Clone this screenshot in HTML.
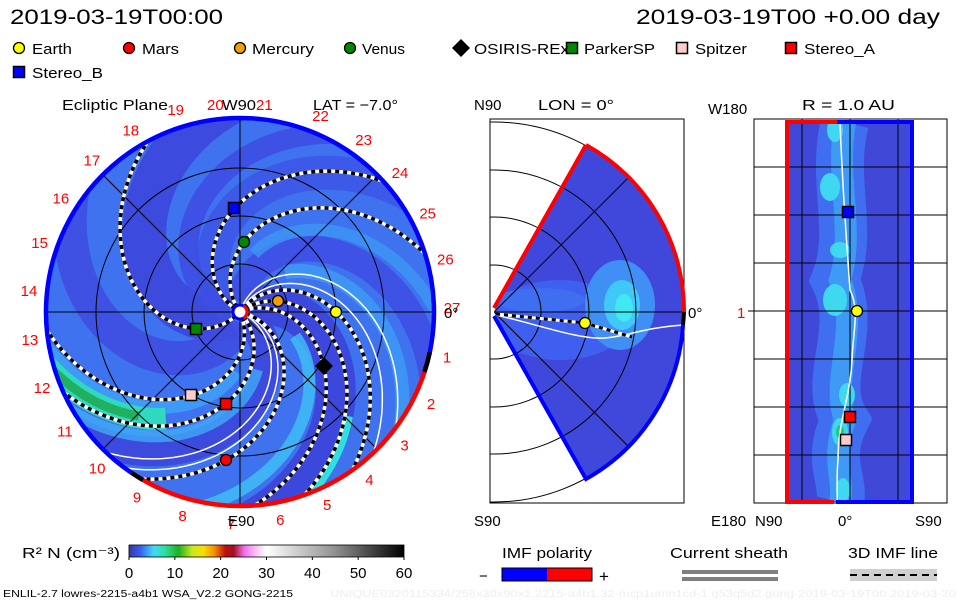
<!DOCTYPE html>
<html><head><meta charset="utf-8"><style>
body{margin:0;background:#fff}
svg{display:block}
text{font-family:"Liberation Sans",sans-serif;}
</style></head><body>
<svg id="s" width="960" height="600" viewBox="0 0 960 600" xmlns="http://www.w3.org/2000/svg">
<defs>
<clipPath id="disk"><circle cx="240" cy="312" r="193"/></clipPath>
<clipPath id="wedge"><path d="M494,312 L586,145 A190,190 0 0 1 586,479 Z"/></clipPath>
<clipPath id="rect"><rect x="785" y="122" width="129" height="380"/></clipPath>
<linearGradient id="cb" x1="0" x2="1" y1="0" y2="0">
<stop offset="0" stop-color="#3838a8"/><stop offset="0.04" stop-color="#3a5cf0"/><stop offset="0.09" stop-color="#40d8f8"/><stop offset="0.13" stop-color="#30e0a0"/><stop offset="0.18" stop-color="#20b020"/><stop offset="0.23" stop-color="#c8e820"/><stop offset="0.27" stop-color="#f8e000"/><stop offset="0.31" stop-color="#f89000"/><stop offset="0.35" stop-color="#c01010"/><stop offset="0.38" stop-color="#a01020"/><stop offset="0.42" stop-color="#f070f0"/><stop offset="0.46" stop-color="#f8c0f0"/><stop offset="0.5" stop-color="#ffffff"/><stop offset="0.75" stop-color="#909090"/><stop offset="1" stop-color="#000"/>
</linearGradient>
</defs>
<g id="left"></g>
<g id="mid"></g>
<g id="right"></g>
<g id="txt" font-size="15" fill="#000">
<text x="10" y="24" font-size="21" textLength="213" lengthAdjust="spacingAndGlyphs">2019-03-19T00:00</text>
<text x="636" y="24" font-size="21" textLength="304" lengthAdjust="spacingAndGlyphs">2019-03-19T00 +0.00 day</text>
<text x="32" y="54" textLength="40" lengthAdjust="spacingAndGlyphs">Earth</text>
<text x="142" y="54" textLength="37" lengthAdjust="spacingAndGlyphs">Mars</text>
<text x="252" y="54" textLength="62" lengthAdjust="spacingAndGlyphs">Mercury</text>
<text x="362" y="54" textLength="43" lengthAdjust="spacingAndGlyphs">Venus</text>
<text x="474" y="54" textLength="95" lengthAdjust="spacingAndGlyphs">OSIRIS-REx</text>
<text x="584" y="54" textLength="71" lengthAdjust="spacingAndGlyphs">ParkerSP</text>
<text x="695" y="54" textLength="52" lengthAdjust="spacingAndGlyphs">Spitzer</text>
<text x="804" y="54" textLength="71" lengthAdjust="spacingAndGlyphs">Stereo_A</text>
<text x="32" y="78" textLength="71" lengthAdjust="spacingAndGlyphs">Stereo_B</text>
<text x="62" y="110" textLength="106" lengthAdjust="spacingAndGlyphs">Ecliptic Plane</text>
<text x="222" y="110" textLength="34" lengthAdjust="spacingAndGlyphs">W90</text>
<text x="207" y="110" fill="#f00">20</text><text x="256" y="110" fill="#f00">21</text>
<text x="313" y="110" textLength="85" lengthAdjust="spacingAndGlyphs">LAT = −7.0°</text>
<text x="474" y="110">N90</text>
<text x="538" y="110" textLength="76" lengthAdjust="spacingAndGlyphs">LON = 0°</text>
<text x="708" y="114">W180</text>
<text x="802" y="110" textLength="93" lengthAdjust="spacingAndGlyphs">R = 1.0 AU</text>
<text x="474" y="526">S90</text>
<text x="711" y="526">E180</text>
<text x="755" y="526">N90</text>
<text x="838" y="526">0°</text>
<text x="915" y="526">S90</text>
<text x="228" y="526">E90</text>
<text x="737" y="318" fill="#f00">1</text>
<text x="688" y="318">0°</text>
<text x="444" y="318">0°</text>
<text x="22" y="558" textLength="98" lengthAdjust="spacingAndGlyphs">R² N (cm⁻³)</text>
<text x="502" y="558" textLength="90" lengthAdjust="spacingAndGlyphs">IMF polarity</text>
<text x="670" y="558" textLength="118" lengthAdjust="spacingAndGlyphs">Current sheath</text>
<text x="848" y="558" textLength="90" lengthAdjust="spacingAndGlyphs">3D IMF line</text>
<text x="479" y="581">−</text><text x="599" y="582" font-size="17">+</text>
<text x="3" y="597" font-size="10" textLength="290" lengthAdjust="spacingAndGlyphs">ENLIL-2.7 lowres-2215-a4b1 WSA_V2.2 GONG-2215</text>
<text x="330" y="597" font-size="10" fill="#eee" textLength="626" lengthAdjust="spacingAndGlyphs">UNIQUE0320115334/256x30x90x1.2215-a4b1.32-mcp1umn1cd-1.g53q5d2.gong-2019-03-19T00   2019-03-20</text>
</g>
<rect x="129" y="545" width="275" height="12" fill="url(#cb)" stroke="#000" stroke-width="0.8"/>
<g font-size="15" id="cbl"></g>
<rect x="502" y="568" width="45" height="13" fill="#00f"/><rect x="547" y="568" width="45" height="13" fill="#f00"/>
<rect x="502" y="568" width="90" height="13" fill="none" stroke="#000"/>
<rect x="682" y="570" width="96" height="4" fill="#808080"/><rect x="682" y="577" width="96" height="4" fill="#808080"/>
<rect x="850" y="569" width="87" height="12" fill="#d0d0d0"/>
<line x1="850" y1="575" x2="937" y2="575" stroke="#000" stroke-width="2" stroke-dasharray="7 5"/>
</svg>
<script>
const NS="http://www.w3.org/2000/svg";
function el(p,t,a){const e=document.createElementNS(NS,t);for(const k in a)e.setAttribute(k,a[k]);p.appendChild(e);return e;}
const L=document.getElementById('left'),M=document.getElementById('mid'),R=document.getElementById('right');
const cx=240,cy=312,d2r=Math.PI/180;
function spiral(p0,r0,r1){let s="";for(let r=r0;r<=r1;r+=2){const f=(p0+0.56*r)*d2r;s+=(s?"L":"M")+(cx+r*Math.cos(f)).toFixed(1)+","+(cy+r*Math.sin(f)).toFixed(1);}return s;}
const g=el(L,'g',{'clip-path':'url(#disk)'});
el(g,'rect',{x:40,y:110,width:400,height:410,fill:'#3f72ee'});
[[150,'#3c46da',44],[-30,'#3c44d8',40],[100,'#3e4ee0',34],[-150,'#3d56e6',34],[-95,'#3e50e4',26],[30,'#3c46da',30],[-175,'#3d4ee2',20]].forEach(b=>el(g,'path',{d:spiral(b[0],10,230),fill:'none',stroke:b[1],'stroke-width':b[2],opacity:0.9}));
[[-10,'#40c8f8',12],[40,'#40b0f8',12],[-75,'#3fa0f6',14],[-110,'#3f9af6',12],[60,'#3fa8f8',12]].forEach(b=>el(g,'path',{d:spiral(b[0],60,230),fill:'none',stroke:b[1],'stroke-width':b[2],opacity:0.75}));
el(g,'path',{d:spiral(52,130,230),fill:'none',stroke:'#30d8c0','stroke-width':22});
el(g,'path',{d:spiral(53,145,230),fill:'none',stroke:'#20b060','stroke-width':9});
el(g,'path',{d:spiral(-40,150,230),fill:'none',stroke:'#30e0e0','stroke-width':10});
[48,96,144].forEach(r=>el(g,'circle',{cx,cy,r,fill:'none',stroke:'#000','stroke-width':1}));
el(g,'line',{x1:40,y1:cy,x2:440,y2:cy,stroke:'#000'});el(g,'line',{x1:cx,y1:110,x2:cx,y2:520,stroke:'#000'});
el(g,'line',{x1:cx-200,y1:cy-200,x2:cx+200,y2:cy+200,stroke:'#000'});el(g,'line',{x1:cx-200,y1:cy+200,x2:cx+200,y2:cy-200,stroke:'#000'});
[-72,-62,18,25].forEach(p=>el(g,'path',{d:spiral(p,6,200),fill:'none',stroke:'#fff','stroke-width':1.5}));
[-151,-126,133,66,47,12,-23,-38,-54].forEach(p=>{const d=spiral(p,6,200);el(g,'path',{d,fill:'none',stroke:'#fff','stroke-width':3.5});el(g,'path',{d,fill:'none',stroke:'#000','stroke-width':3.5,'stroke-dasharray':'4 4'});});
function arc(a0,a1,r,col,w){const p=a=>[(cx+r*Math.cos(a*d2r)).toFixed(1),(cy+r*Math.sin(a*d2r)).toFixed(1)];const A=p(a0),B=p(a1);el(L,'path',{d:`M${A}A${r},${r} 0 ${a1-a0>180?1:0} 1 ${B}`,fill:'none',stroke:col,'stroke-width':w});}
arc(124,378,194,'#00f',4.5);arc(18,122,194,'#f00',4.5);arc(12,18,194,'#000',4.5);arc(120,124,194,'#000',4.5);
el(L,'circle',{cx,cy,r:7,fill:'#fff',stroke:'#00f','stroke-width':3});
arc(-60,60,7,'#f00',3);
for(let n=1;n<=27;n++){if(n==20||n==21)continue;const a=(12.4+(n-1)*13.33)*d2r;const x=cx+212*Math.cos(a),y=cy+212*Math.sin(a);const t=el(L,'text',{x:x.toFixed(1),y:(y+5).toFixed(1),'text-anchor':'middle','font-size':15,fill:'#f00'});t.textContent=n;}
function circ(p,x,y,c){el(p,'circle',{cx:x,cy:y,r:5.5,fill:c,stroke:'#000','stroke-width':1.3});}
function sq(p,x,y,c){el(p,'rect',{x:x-5.5,y:y-5.5,width:11,height:11,fill:c,stroke:'#000','stroke-width':1.5});}
function dia(p,x,y){el(p,'path',{d:`M${x},${y-9}L${x+9},${y}L${x},${y+9}L${x-9},${y}Z`,fill:'#000'});}
circ(L,336,312,'#ff0');circ(L,226,460,'#f00');circ(L,278,301,'#f0a000');circ(L,244,242,'#080');
sq(L,234,208,'#00f');sq(L,196,329,'#080');sq(L,191,395,'#fcc');sq(L,226,404,'#f00');dia(L,324,366);
circ(L,19,48,'#ff0');circ(L,129,48,'#f00');circ(L,240,48,'#f0a000');circ(L,350,48,'#080');dia(L,461,48);
sq(L,572,48,'#080');sq(L,682,48,'#fcc');sq(L,791,48,'#f00');sq(L,19,72,'#00f');
const ax=494,ay=312;
el(M,'rect',{x:490,y:119,width:194,height:384,fill:'none',stroke:'#000'});
const cp=el(document.querySelector('defs'),'clipPath',{id:'mr'});el(cp,'rect',{x:490,y:119,width:194,height:384});
const mc=el(M,'g',{'clip-path':'url(#mr)'});
[47,95,142,190].forEach(r=>el(mc,'circle',{cx:ax,cy:ay,r,fill:'none',stroke:'#000'}));
const w=el(M,'g',{'clip-path':'url(#wedge)'});
el(w,'rect',{x:490,y:119,width:200,height:384,fill:'#4048dc'});
el(w,'ellipse',{cx:560,cy:320,rx:70,ry:40,fill:'#3f5ff0'});
el(w,'ellipse',{cx:620,cy:305,rx:35,ry:45,fill:'#3f8ff5'});
el(w,'ellipse',{cx:622,cy:305,rx:18,ry:25,fill:'#40c8f8'});
el(w,'ellipse',{cx:624,cy:308,rx:9,ry:14,fill:'#40e8f0'});
el(w,'ellipse',{cx:540,cy:300,rx:45,ry:12,fill:'#3f6ef0'});
[47,95,142,190].forEach(r=>el(w,'circle',{cx:ax,cy:ay,r,fill:'none',stroke:'#000'}));
el(w,'line',{x1:ax,y1:ay,x2:700,y2:ay,stroke:'#000'});
el(w,'line',{x1:ax,y1:ay,x2:ax+200,y2:ay-200,stroke:'#000'});el(w,'line',{x1:ax,y1:ay,x2:ax+200,y2:ay+200,stroke:'#000'});
el(w,'path',{d:'M496,315 C540,325 580,340 605,338 C630,336 640,328 684,325',fill:'none',stroke:'#fff','stroke-width':1.5});
el(M,'path',{d:'M496,314 L585,323 L632,337',fill:'none',stroke:'#fff','stroke-width':3});
el(M,'path',{d:'M496,314 L585,323 L632,337',fill:'none',stroke:'#000','stroke-width':3,'stroke-dasharray':'4 4'});
el(M,'path',{d:'M586,145 L494,308',fill:'none',stroke:'#f00','stroke-width':4});
el(M,'path',{d:'M586,145 A190,190 0 0 1 684,312',fill:'none',stroke:'#f00','stroke-width':4});
el(M,'path',{d:'M684,312 A190,190 0 0 1 683,325',fill:'none',stroke:'#000','stroke-width':4});
el(M,'path',{d:'M683,325 A190,190 0 0 1 586,479 L494,316',fill:'none',stroke:'#00f','stroke-width':4});
circ(M,585,323,'#ff0');
el(R,'rect',{x:754,y:119,width:193,height:384,fill:'none',stroke:'#000'});
const rg=el(R,'g',{'clip-path':'url(#rect)'});
el(rg,'rect',{x:785,y:122,width:129,height:380,fill:'#4048d8'});
el(rg,'path',{d:'M845,122 C830,180 855,230 835,280 C860,330 820,380 845,420 C825,460 845,480 840,502',fill:'none',stroke:'#3f6ef0','stroke-width':48});
el(rg,'path',{d:'M845,122 C835,180 855,230 840,280 C860,330 830,380 845,420 C830,460 845,480 840,502',fill:'none',stroke:'#3f9af5','stroke-width':22});
[[830,187,10,14],[840,250,10,8],[835,300,12,16],[847,395,8,12],[840,432,8,14],[843,490,7,12],[835,130,8,12]].forEach(e=>el(rg,'ellipse',{cx:e[0],cy:e[1],rx:e[2],ry:e[3],fill:'#40d8f0'}));
el(rg,'ellipse',{cx:840,cy:432,rx:4,ry:7,fill:'#20c880'});
[167,215,263,311,359,407,455].forEach(y=>el(R,'line',{x1:754,y1:y,x2:947,y2:y,stroke:'#000'}));
[802,850,898].forEach(x=>el(R,'line',{x1:x,y1:119,x2:x,y2:503,stroke:'#000'}));
el(R,'path',{d:'M840,122 C843,200 848,260 850,290 C860,310 853,330 852,360 C850,400 838,420 838,460 C836,480 838,495 837,502',fill:'none',stroke:'#fff','stroke-width':1.5});
el(R,'line',{x1:787,y1:122,x2:787,y2:503,stroke:'#f00','stroke-width':4});
el(R,'line',{x1:912,y1:122,x2:912,y2:503,stroke:'#00f','stroke-width':4});
el(R,'line',{x1:785,y1:122,x2:837,y2:122,stroke:'#f00','stroke-width':4});el(R,'line',{x1:837,y1:122,x2:914,y2:122,stroke:'#00f','stroke-width':4});
el(R,'line',{x1:785,y1:502,x2:834,y2:502,stroke:'#f00','stroke-width':4});el(R,'line',{x1:836,y1:502,x2:914,y2:502,stroke:'#00f','stroke-width':4});
el(R,'line',{x1:748,y1:311,x2:754,y2:311,stroke:'#000'});
sq(R,848,212,'#00f');circ(R,857,311,'#ff0');sq(R,850,417,'#f00');sq(R,846,440,'#fcc');
const cb=document.getElementById('cbl');
for(let i=0;i<=6;i++){const x=129+i*275/6;const t=el(cb,'text',{x,y:578,'text-anchor':'middle','font-size':15});t.textContent=i*10;el(cb,'line',{x1:x,y1:557,x2:x,y2:560,stroke:'#000'});}
</script>
</body></html>
